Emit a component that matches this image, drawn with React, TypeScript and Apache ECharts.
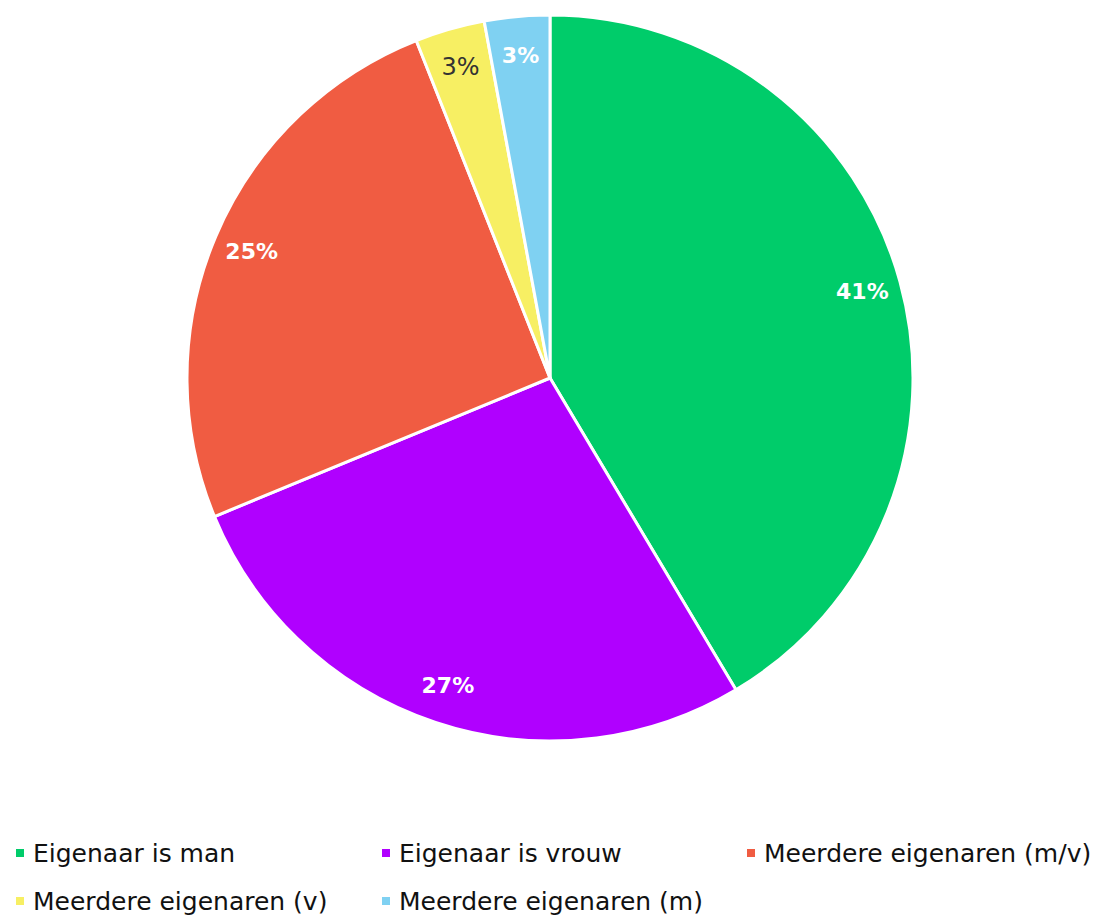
import React, { useEffect, useRef } from "react";
import * as echarts from "echarts";

const categories = [
  "Eigenaar is man",
  "Eigenaar is vrouw",
  "Meerdere eigenaren (m/v)",
  "Meerdere eigenaren (v)",
  "Meerdere eigenaren (m)",
];
const values = [41.4, 27.3, 25.2, 3.1, 2.9];
const labels = ["41%", "27%", "25%", "3%", "3%"];
const colors = ["#00CC6A", "#B000FF", "#F05C42", "#F7EF63", "#7FD1F2"];
const labelColors = ["#ffffff", "#ffffff", "#ffffff", "#333333", "#ffffff"];
const labelWeights = ["bold", "bold", "bold", "normal", "bold"];
const labelSizes = [22, 22, 22, 24, 22];

export default function App() {
  const ref = useRef<HTMLDivElement>(null);
  useEffect(() => {
    if (!ref.current) return;
    const chart = echarts.init(ref.current, null, { renderer: "svg" });
    const font = "'DejaVu Sans', sans-serif";
    const colLeft = [6, 372, 737];
    const rowTop = [821, 869];
    const legends = categories.map((c, i) => ({
      orient: "horizontal",
      itemGap: 0,
      itemWidth: 10,
      itemHeight: 10,
      icon: "rect",
      padding: 0,
      left: colLeft[i % 3],
      top: rowTop[Math.floor(i / 3)],
      data: [c],
      textStyle: {
        fontFamily: font,
        fontSize: 25,
        color: "#111111",
        height: 48,
        lineHeight: 48,
        padding: [0, 0, 0, 3],
      },
    }));
    chart.setOption({
      animation: false,
      color: colors,
      legend: legends,
      series: [
        {
          type: "pie",
          center: [542, 370],
          radius: [0, 363],
          startAngle: 90,
          clockwise: true,
          silent: true,
          itemStyle: { borderColor: "#ffffff", borderWidth: 3 },
          label: { show: false },
          labelLine: { show: false },
          data: categories.map((c, i) => ({ name: c, value: values[i] })),
        },
        {
          type: "pie",
          center: [542, 370],
          radius: [294, 348],
          startAngle: 90,
          clockwise: true,
          silent: true,
          legendHoverLink: false,
          itemStyle: { color: "transparent", borderWidth: 0 },
          labelLine: { show: false },
          data: categories.map((c, i) => ({
            name: c + " ",
            value: values[i],
            label: {
              show: true,
              position: "inside",
              formatter: labels[i],
              color: labelColors[i],
              fontWeight: labelWeights[i],
              fontSize: labelSizes[i],
              fontFamily: font,
            },
          })),
        },
      ],
    });
    return () => chart.dispose();
  }, []);
  return <div ref={ref} style={{ width: 1090, height: 907 }} />;
}
